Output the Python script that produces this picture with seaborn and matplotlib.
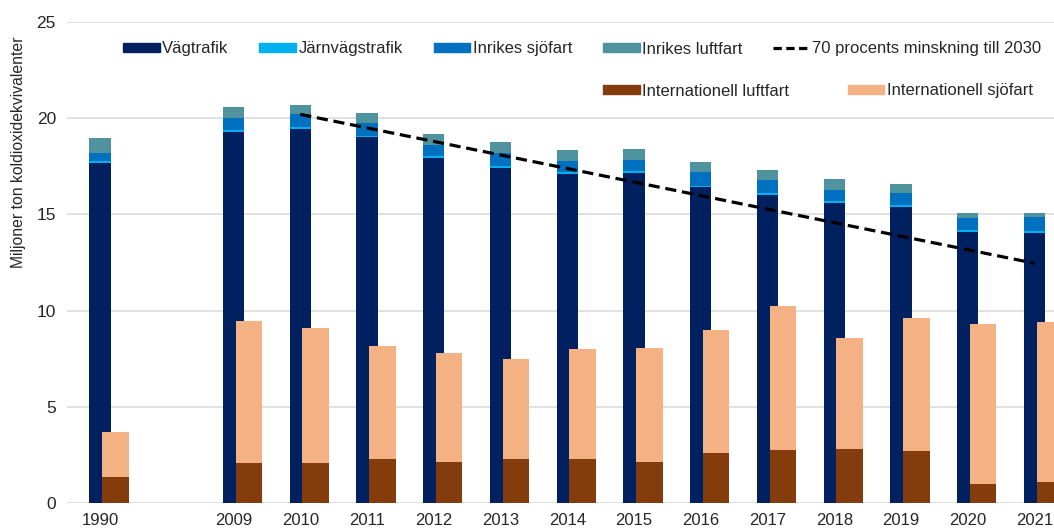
import matplotlib
matplotlib.use("Agg")
import matplotlib.pyplot as plt
import seaborn as sns
import pandas as pd
from matplotlib.patches import Patch
from matplotlib.lines import Line2D

# ---------------- data ----------------
years = ["1990", "2009", "2010", "2011", "2012", "2013", "2014", "2015",
         "2016", "2017", "2018", "2019", "2020", "2021"]
vagtrafik = [17.65, 19.30, 19.42, 19.00, 17.92, 17.43, 17.10, 17.17,
             16.42, 16.00, 15.60, 15.40, 14.10, 14.02]
jarnvagstrafik = [0.10, 0.10, 0.10, 0.08, 0.10, 0.09, 0.08, 0.09,
                  0.08, 0.10, 0.10, 0.08, 0.09, 0.10]
inrikes_sjofart = [0.45, 0.60, 0.70, 0.65, 0.58, 0.68, 0.61, 0.57,
                   0.68, 0.69, 0.57, 0.62, 0.61, 0.73]
inrikes_luftfart = [0.75, 0.57, 0.48, 0.56, 0.58, 0.55, 0.56, 0.58,
                    0.54, 0.52, 0.55, 0.50, 0.29, 0.24]
int_luftfart = [1.34, 2.09, 2.09, 2.27, 2.15, 2.27, 2.27, 2.15,
                2.58, 2.75, 2.81, 2.70, 0.97, 1.07]
int_sjofart = [2.33, 7.37, 6.99, 5.89, 5.66, 5.23, 5.72, 5.89,
               6.41, 7.49, 5.75, 6.93, 8.32, 8.32]
target_years = ["2010", "2021"]
target_values = [20.20, 12.46]

labels_dom = ["Vägtrafik", "Järnvägstrafik", "Inrikes sjöfart", "Inrikes luftfart"]
label_target = "70 procents minskning till 2030"
labels_int = ["Internationell luftfart", "Internationell sjöfart"]

# ---------------- style ----------------
c_vag = "#002060"
c_jarn = "#00B0F0"
c_sjo = "#0070C0"
c_luft = "#4F939E"
c_intluft = "#843C0C"
c_intsjo = "#F4B183"
txt = "#262626"

sns.set_style("white")
plt.rcParams["font.family"] = ["Liberation Sans", "DejaVu Sans"]

W, H = 1054, 531
fig = plt.figure(figsize=(W / 100, H / 100), dpi=100)
ax = fig.add_axes([67 / W, 28 / H, 1 - 67 / W, (503 - 22) / H])


def slot(y):
    return 0 if y == "1990" else int(y) - 2007


df = pd.DataFrame({
    "year": years,
    "vag": vagtrafik,
    "jarn": jarnvagstrafik,
    "sjo": inrikes_sjofart,
    "luft": inrikes_luftfart,
    "iluft": int_luftfart,
    "isjo": int_sjofart,
})
df["pos"] = [slot(y) for y in years]
df["pos_int"] = df["pos"] + 0.23
df["c1"] = df["vag"]
df["c2"] = df["c1"] + df["jarn"]
df["c3"] = df["c2"] + df["sjo"]
df["c4"] = df["c3"] + df["luft"]
df["i1"] = df["iluft"]
df["i2"] = df["i1"] + df["isjo"]

# domestic stacked bar (draw cumulative totals from top down)
for col, color in [("c4", c_luft), ("c3", c_sjo), ("c2", c_jarn), ("c1", c_vag)]:
    sns.barplot(data=df, x="pos", y=col, native_scale=True, width=0.32,
                color=color, saturation=1, errorbar=None, ax=ax, zorder=2,
                linewidth=0, edgecolor=color)

# international stacked bar
for col, color in [("i2", c_intsjo), ("i1", c_intluft)]:
    sns.barplot(data=df, x="pos_int", y=col, native_scale=True, width=0.40,
                color=color, saturation=1, errorbar=None, ax=ax, zorder=3,
                linewidth=0, edgecolor=color)

# target line
line_df = pd.DataFrame({"pos": [slot(y) for y in target_years], "val": target_values})
sns.lineplot(data=line_df, x="pos", y="val", color="black", lw=2.3,
             linestyle=(0, (3.5, 1.8)), ax=ax, zorder=4)

# axes
ax.set_xlim((67 - 100) / 66.75, (1054 - 100) / 66.75)
ax.set_ylim(0, 25)
ax.set_yticks([0, 5, 10, 15, 20, 25])
ax.set_xticks([slot(y) for y in years])
ax.set_xticklabels(years)
ax.set_xlabel("")
ax.set_ylabel("")
ax.yaxis.grid(True, color="#D9D9D9", lw=1.1)
ax.xaxis.grid(False)
ax.set_axisbelow(True)
for s in ax.spines.values():
    s.set_visible(False)
ax.tick_params(axis="y", length=0, labelsize=12.5, colors=txt, pad=8)
ax.tick_params(axis="x", length=0, labelsize=12, colors=txt, pad=7)

fig.text(19 / W, 1 - 152 / H, "Miljoner ton koldioxidekvivalenter",
         rotation=90, ha="center", va="center", fontsize=11.3, color=txt)

# legends
h1 = [Patch(color=c_vag), Patch(color=c_jarn), Patch(color=c_sjo), Patch(color=c_luft),
      Line2D([], [], color="black", lw=2.3, linestyle=(0, (2.6, 1.4)))]
fig.legend(h1, labels_dom + [label_target], loc="center left",
           bbox_to_anchor=(123 / W, 1 - 49 / H), ncol=5, frameon=False,
           fontsize=12, handlelength=2.2, handleheight=0.5, handletextpad=0.15,
           columnspacing=1.85, borderpad=0, borderaxespad=0, labelcolor=txt)
h2 = [Patch(color=c_intluft), Patch(color=c_intsjo)]
fig.legend(h2, labels_int, loc="center left",
           bbox_to_anchor=(603 / W, 1 - 91 / H), ncol=2, frameon=False,
           fontsize=12, handlelength=2.2, handleheight=0.5, handletextpad=0.15,
           columnspacing=3.5, borderpad=0, borderaxespad=0, labelcolor=txt)

fig.savefig("out.png", dpi=100)
